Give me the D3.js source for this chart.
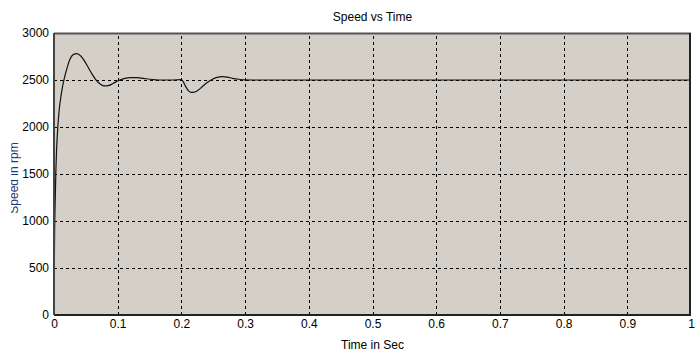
<!DOCTYPE html>
<meta charset="utf-8">
<style>
    body {
        margin: 0;
        background-color: #ffffff;
    }
    text {
        font-family: "Liberation Sans", Arial, sans-serif;
    }
    .grid line {
        stroke: #000;
        stroke-width: 1px;
        stroke-dasharray: 3, 3;
        shape-rendering: crispEdges;
    }
    .grid path {
        display: none;
    }
    .axis path, .axis line {
        display: none;
    }
</style>

<body>
    <svg width="699" height="353"></svg>
    <script src="https://cdnjs.cloudflare.com/ajax/libs/d3/7.8.5/d3.min.js"></script>
    <script>
        // speed response
        var time = [0, 0.001, 0.002, 0.003, 0.004, 0.006, 0.008, 0.011, 0.014, 0.017, 0.021, 0.025, 0.03, 0.036, 0.042, 0.048, 0.054, 0.06, 0.066, 0.072, 0.078, 0.085, 0.092, 0.1, 0.11, 0.12, 0.13, 0.14, 0.15, 0.16, 0.17, 0.185, 0.2, 0.203, 0.206, 0.21, 0.215, 0.22, 0.226, 0.233, 0.24, 0.248, 0.256, 0.264, 0.272, 0.28, 0.29, 0.3, 0.32, 0.4, 0.5, 0.6, 0.7, 0.8, 0.9, 1.0];
        var speed = [150, 900, 1250, 1550, 1750, 2000, 2170, 2330, 2450, 2540, 2640, 2720, 2770, 2780, 2755, 2700, 2630, 2560, 2500, 2460, 2438, 2440, 2460, 2490, 2515, 2525, 2525, 2518, 2508, 2502, 2500, 2500, 2505, 2480, 2440, 2395, 2368, 2370, 2390, 2430, 2470, 2505, 2528, 2535, 2530, 2518, 2508, 2502, 2500, 2500, 2500, 2500, 2500, 2500, 2500, 2500];

        var xTicks = [0, 0.1, 0.2, 0.3, 0.4, 0.5, 0.6, 0.7, 0.8, 0.9, 1];
        var yTicks = [0, 500, 1000, 1500, 2000, 2500, 3000];

        var svg = d3.select("svg"),
            margin = {top: 33, right: 8, bottom: 38, left: 54},
            width = +svg.attr("width") - margin.left - margin.right,
            height = +svg.attr("height") - margin.top - margin.bottom;

        var x = d3.scaleLinear().domain([0, 1]).range([0, width]);
        var y = d3.scaleLinear().domain([0, 3000]).range([height, 0]);

        var g = svg.append("g")
            .attr("transform", "translate(" + margin.left + "," + margin.top + ")");

        g.append("rect")
            .attr("width", width)
            .attr("height", height)
            .attr("fill", "#d4d0c8");

        g.append("g")
            .attr("class", "grid")
            .attr("transform", "translate(0," + height + ")")
            .call(d3.axisBottom(x).tickValues(xTicks.slice(1, -1)).tickSize(-height).tickFormat(""));

        g.append("g")
            .attr("class", "grid")
            .call(d3.axisLeft(y).tickValues(yTicks.slice(1, -1)).tickSize(-width).tickFormat(""));

        var line = d3.line()
            .x(function(d, i) { return x(time[i]); })
            .y(function(d) { return y(d); })
            .curve(d3.curveMonotoneX);

        g.append("path")
            .datum(speed)
            .attr("fill", "none")
            .attr("stroke", "#111")
            .attr("stroke-width", 1.2)
            .attr("d", line);

        // frame
        g.append("line").attr("x1", 0).attr("x2", width).attr("y1", 0.5).attr("y2", 0.5)
            .attr("stroke", "#555").attr("stroke-width", 2);
        g.append("line").attr("x1", width - 1).attr("x2", width - 1).attr("y1", 0).attr("y2", height)
            .attr("stroke", "#222").attr("stroke-width", 2);
        g.append("line").attr("x1", 0).attr("x2", width).attr("y1", height).attr("y2", height)
            .attr("stroke", "#222").attr("stroke-width", 2);
        g.append("line").attr("x1", 0).attr("x2", 0).attr("y1", 0).attr("y2", height)
            .attr("stroke", "#444").attr("stroke-width", 2);

        // tick labels
        var xa = g.append("g")
            .attr("class", "axis")
            .attr("transform", "translate(0," + height + ")")
            .call(d3.axisBottom(x).tickValues(xTicks).tickSize(0).tickPadding(4).tickFormat(d3.format("~g")));
        xa.selectAll("text").attr("font-size", 12).attr("fill", "#000")
            .style("font-family", "'Liberation Sans', Arial, sans-serif");

        var ya = g.append("g")
            .attr("class", "axis")
            .call(d3.axisLeft(y).tickValues(yTicks).tickSize(0).tickPadding(5).tickFormat(d3.format("d")));
        ya.selectAll("text").attr("font-size", 12).attr("fill", "#000")
            .style("font-family", "'Liberation Sans', Arial, sans-serif");

        svg.append("text")
            .attr("x", margin.left + width / 2)
            .attr("y", 21)
            .attr("text-anchor", "middle")
            .attr("font-size", 12)
            .text("Speed vs Time");

        svg.append("text")
            .attr("x", margin.left + width / 2)
            .attr("y", 349)
            .attr("text-anchor", "middle")
            .attr("font-size", 12)
            .text("Time in Sec");

        svg.append("text")
            .attr("transform", "translate(18,178) rotate(-90)")
            .attr("text-anchor", "middle")
            .attr("font-size", 12)
            .attr("fill", "#1f3b73")
            .text("Speed in rpm");

        // label is clipped on the left in the original
        svg.append("rect").attr("x", 0).attr("y", 100).attr("width", 11).attr("height", 160).attr("fill", "#fff");
    </script>
</body>
